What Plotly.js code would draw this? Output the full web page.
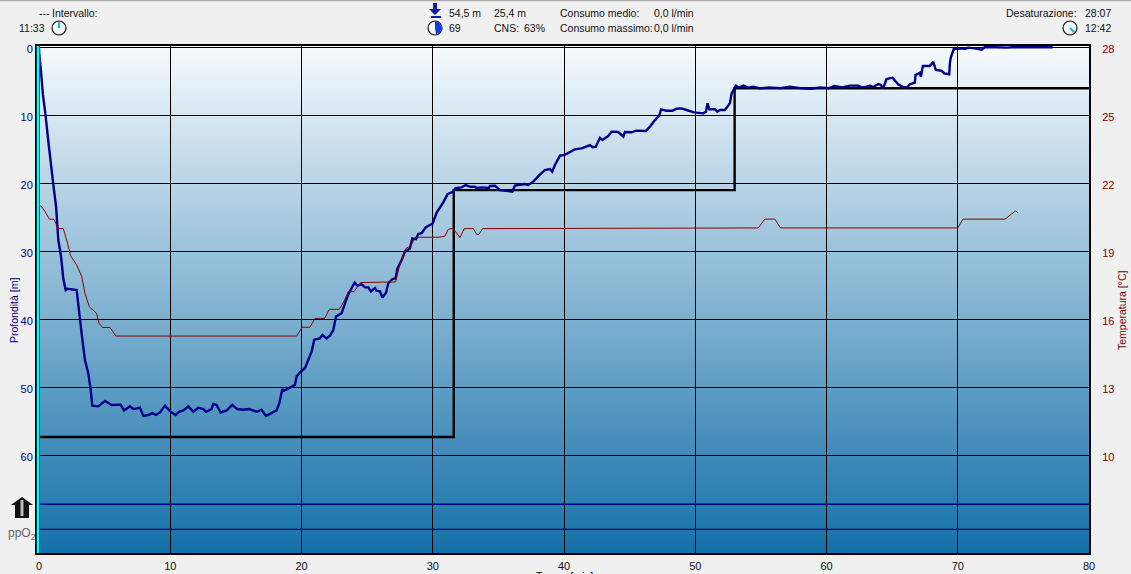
<!DOCTYPE html>
<html><head><meta charset="utf-8">
<script src="https://cdn.plot.ly/plotly-3.0.1.min.js"></script>
<style>
html,body{margin:0;padding:0;width:1131px;height:574px;overflow:hidden;background:#f0f0f0}
#bg{position:absolute;left:37px;top:46px;width:1052px;height:507px;background:linear-gradient(to bottom,#f6fafd 0%,#1470a8 100%)}
#chart{position:absolute;left:0;top:0;width:1131px;height:574px}
</style></head><body>
<div id="bg"></div><div id="chart"></div>
<script>
const depthTime=[0,0.02,0.15,0.3,0.5,0.72,1.14,1.30,1.47,1.68,1.85,2.03,2.16,2.87,3.00,3.25,3.50,3.76,3.94,4.06,4.52,5.03,5.54,6.22,6.48,6.93,7.19,7.69,7.95,8.33,8.63,8.91,9.22,9.6,10.03,10.41,10.67,11.0,11.38,11.76,12.14,12.52,12.72,13.15,13.28,13.53,13.84,14.3,14.73,15.1,15.57,16.0,16.58,16.96,17.29,17.6,18.1,18.31,18.54,18.66,19.25,19.5,19.63,20.0,20.26,20.77,20.97,21.4,21.6,21.9,22.17,22.42,22.63,23.06,23.36,23.57,23.82,24.05,24.25,24.58,24.84,25.09,25.29,25.6,25.72,25.98,26.16,26.44,26.61,26.92,27.17,27.3,27.63,27.88,28.26,28.44,28.72,28.9,29.15,29.46,29.99,30.3,30.8,31.13,31.56,31.74,32.2,32.5,32.83,33.2,33.34,33.72,34.28,34.36,34.74,35.12,36.06,36.26,37.0,37.28,37.66,38.12,38.55,38.93,39.1,39.31,39.69,40.0,40.27,40.83,41.34,41.98,42.18,42.43,42.74,42.92,43.37,43.63,44.13,44.52,44.64,45.15,45.48,46.24,46.55,46.93,47.26,47.39,47.82,48.27,48.58,48.96,49.34,49.9,50.61,50.81,50.94,51.07,51.5,51.68,51.88,52.26,52.64,52.77,53.1,53.35,53.66,54.04,54.42,54.93,55.6,56.5,57.2,58,58.8,59.5,60.2,60.6,61.2,61.78,62.41,62.67,63.05,63.3,63.56,63.94,64.14,64.32,64.57,65.03,65.46,65.84,66.15,66.35,66.73,66.78,67.11,67.19,67.34,67.87,68.13,68.33,68.76,68.97,69.35,69.4,69.47,69.7,70.29,70.54,70.8,71.3,71.81,72.06,72.95,73.7,74.2,75.0,77.22];
const depthMeters=[0,1.0,3.5,7.0,10.0,14.0,20.98,23.4,28.3,30.8,34.0,35.7,35.5,35.7,37.9,42.1,46.0,48.0,50.4,52.7,52.8,52.0,52.6,52.55,53.4,52.8,53.2,53.0,54.2,54.07,53.8,54.07,53.7,52.7,53.6,54.07,53.6,53.4,52.8,53.6,53.0,53.2,53.6,53.2,52.45,52.6,53.7,53.4,52.6,53.2,53.3,53.2,53.6,53.3,54.2,53.9,53.4,52.35,50.25,50.5,49.9,49.65,48.4,47.6,47.2,44.75,43.0,42.8,42.3,42.8,42.4,41.6,39.6,39.1,37.4,36.3,35.4,34.6,35.05,34.85,35.3,35.3,35.9,35.4,35.8,35.9,36.8,36.1,34.7,34.1,34.0,32.6,31.3,30.05,29.6,28.1,28.2,27.45,27.35,26.5,25.9,24.3,22.8,21.6,21.2,20.7,20.6,20.25,20.5,20.5,20.7,20.6,20.7,20.4,20.35,21.0,21.23,20.35,20.1,20.25,19.76,18.8,18.05,17.9,18.3,17.3,15.94,15.84,15.6,15.0,14.86,14.37,14.7,14.6,13.3,13.64,13.05,12.4,12.46,13.14,12.46,12.5,12.26,12.3,11.67,10.7,10.06,9.12,9.32,9.32,9.03,8.98,9.22,9.57,9.71,9.47,8.24,9.12,9.12,9.47,9.22,9.22,8.24,6.77,5.64,5.94,5.64,5.94,5.79,6.04,5.9,6.0,5.8,6.0,6.1,5.9,6.0,5.7,5.9,5.64,5.64,5.89,5.79,5.64,5.84,5.4,5.54,6.03,4.66,4.47,5.45,5.84,5.89,5.45,5.2,4.07,3.73,4.32,2.75,2.75,2.11,3.34,3.44,3.83,3.97,2.36,1.52,0.25,0.15,0.25,0.05,0.15,0.35,0,0,0.05,0,0,0];
const tempTime=[0,0.2,0.46,0.79,1.14,1.47,1.85,2.06,2.18,2.41,2.87,3.25,3.5,3.83,4.39,4.57,4.85,5.41,5.87,19.63,20.05,20.65,21.03,21.76,22.12,22.88,23.26,23.57,24.0,24.5,27.17,27.45,27.96,28.26,28.72,30.47,30.93,31.18,31.49,31.74,32.07,32.4,33.09,33.34,33.52,33.8,54.8,55.3,56.06,56.5,70.0,70.4,73.6,74.4,74.6];
const tempCelsius=[21.04,20.97,20.75,20.42,20.41,20.0,20.0,19.65,19.35,18.8,18.4,17.9,17.15,16.56,16.26,15.82,15.64,15.64,15.26,15.26,15.65,15.65,16.04,16.04,16.44,16.44,16.82,17.22,17.22,17.62,17.65,18.32,19.13,19.22,19.62,19.62,19.67,19.97,20.01,19.87,19.6,20.0,20.0,19.75,19.75,20.0,20.03,20.42,20.42,20.03,20.03,20.42,20.42,20.78,20.7];
const stepTime=[0,31.6,53.0,80];
const stepMeters=[57.3,21.0,6.03,6.03];
const ppo2Limits=[67.2,70.9];
const xTicks=[0,10,20,30,40,50,60,70,80];
const depthTicks=[0,10,20,30,40,50,60];
const tempTicks=[28,25,22,19,16,13,10];

const L=37,T=46,W=1052,H=507;
const px=x=>(x-L)/W, py=y=>1-(y-T)/H;
const FONT='"Liberation Sans", Arial, sans-serif';
const label=(x,y,text,anchor='left',color='#111',extra={})=>Object.assign({
  xref:'paper',yref:'paper',x:px(x),y:py(y),text,showarrow:false,xanchor:anchor,yanchor:'middle',
  font:{family:FONT,size:10.5,color},borderpad:0},extra);
const annotations=[
  label(38,13,'---'),label(51,13,'Intervallo:'),label(46,28,'11:33','right'),
  label(448,13,'54,5 m'),label(493,13,'25,4 m'),label(559,13,'Consumo medio:'),label(653,13,'0,0 l/min'),
  label(448,28,'69'),label(493,28,'CNS:'),label(523,28,'63%'),label(559,28,'Consumo massimo:'),label(653,28,'0,0 l/min'),
  label(1078,13,'Desaturazione:','right'),label(1084,13,'28:07'),label(1084,28,'12:42'),
  label(14,311,'Profondità [m]','center','#000080',{textangle:-90}),
  label(1122,310,'Temperatura [°C]','center','#800000',{textangle:-90}),
  label(564,576,'Tempo [min]','center'),
  label(22,534,'ppO<sub>2</sub>','center','#666',{font:{family:FONT,size:12,color:'#666'}})
];
const clock=(cx,cy)=>({type:'circle',xref:'paper',yref:'paper',x0:px(cx-7),x1:px(cx+7),y0:py(cy+7),y1:py(cy-7),
  fillcolor:'#f4f4f4',line:{color:'#111',width:1.2},layer:'above'});
const seg=(x0,y0,x1,y1,color,width)=>({type:'line',xref:'paper',yref:'paper',x0:px(x0),y0:py(y0),x1:px(x1),y1:py(y1),line:{color,width},layer:'above'});
const poly=(pts,fill)=>({type:'path',xref:'paper',yref:'paper',layer:'above',fillcolor:fill,line:{width:0},
  path:'M '+pts.map(p=>px(p[0])+' '+py(p[1])).join(' L ')+' Z'});
const shapes=[
  seg(0,0.5,1131,0.5,'#aaaaaa',1.5),
  seg(38,46,38,553,'#00ffff',2.6),
  clock(59,28),seg(59,28,59,22,'#00b8e8',2),
  clock(1070,28),seg(1070,28,1074,32,'#00b8e8',2),
  clock(435,28),
  {type:'path',xref:'paper',yref:'paper',layer:'above',fillcolor:'#0a3ee0',line:{width:0},
   path:`M ${px(435)} ${py(28)} L ${px(435)} ${py(21.5)} L ${px(439)} ${py(22.5)} L ${px(441.5)} ${py(27)} L ${px(440.5)} ${py(32)} L ${px(436)} ${py(34.5)} L ${px(435)} ${py(28)} Z`},
  poly([[433,3],[437,3],[437,9],[441,9],[435,15],[429,9],[433,9]],'#101c9c'),
  seg(431,17,441,17,'#101c9c',2),
  poly([[22,497],[33,505],[29,505],[29,518],[15,518],[15,505],[11,505]],'#111'),
  seg(22,500,22,516,'#bbbbbb',3)
];
const traces=[
  {x:[0,80],y:[ppo2Limits[0],ppo2Limits[0]],mode:'lines',line:{color:'#000080',width:1.3},name:'ppO2 1'},
  {x:[0,80],y:[ppo2Limits[1],ppo2Limits[1]],mode:'lines',line:{color:'#000060',width:1.3},name:'ppO2 2'},
  {x:stepTime,y:stepMeters,mode:'lines',line:{color:'#000',width:2.4,shape:'hv'},name:'Profilo'},
  {x:tempTime,y:tempCelsius,yaxis:'y2',mode:'lines',line:{color:'#8b0000',width:1},name:'Temperatura'},
  {x:depthTime,y:depthMeters,mode:'lines',line:{color:'#00008b',width:2.4,simplify:false},name:'Profondità'}
];
const yBottom=(T+H-47.3)/6.8, yTop=(T-47.3)/6.8;
const layout={
  width:1131,height:574,margin:{l:L,r:1131-L-W,t:T,b:574-T-H,pad:0},
  paper_bgcolor:'rgba(0,0,0,0)',plot_bgcolor:'rgba(0,0,0,0)',showlegend:false,
  font:{family:FONT,size:11},
  xaxis:{range:[(L-39)/13.125,80],tickvals:xTicks,ticktext:xTicks.map(String),showgrid:true,gridcolor:'#000',gridwidth:1,
    zeroline:false,showline:true,mirror:true,linecolor:'#000',linewidth:2,ticks:'outside',ticklen:2,tickcolor:'rgba(0,0,0,0)',tickfont:{color:'#111',size:11,family:FONT}},
  yaxis:{range:[yBottom,yTop],tickvals:depthTicks,ticktext:depthTicks.map(String),showgrid:true,gridcolor:'#000',gridwidth:1,
    zeroline:false,showline:true,mirror:true,linecolor:'#000',linewidth:2,ticks:'',ticklen:0,ticklabelshift:-2,tickfont:{color:'#000080',size:11,family:FONT}},
  yaxis2:{overlaying:'y',side:'right',range:[28-0.3*yBottom,28-0.3*yTop],tickvals:tempTicks,ticktext:tempTicks.map(String),showgrid:false,
    zeroline:false,showline:false,ticks:'outside',ticklen:10,ticklabelshift:2,tickcolor:'rgba(0,0,0,0)',tickfont:{color:'#800000',size:11,family:FONT}},
  annotations,shapes
};
Plotly.newPlot('chart',traces,layout,{displayModeBar:false,staticPlot:true});
</script></body></html>
